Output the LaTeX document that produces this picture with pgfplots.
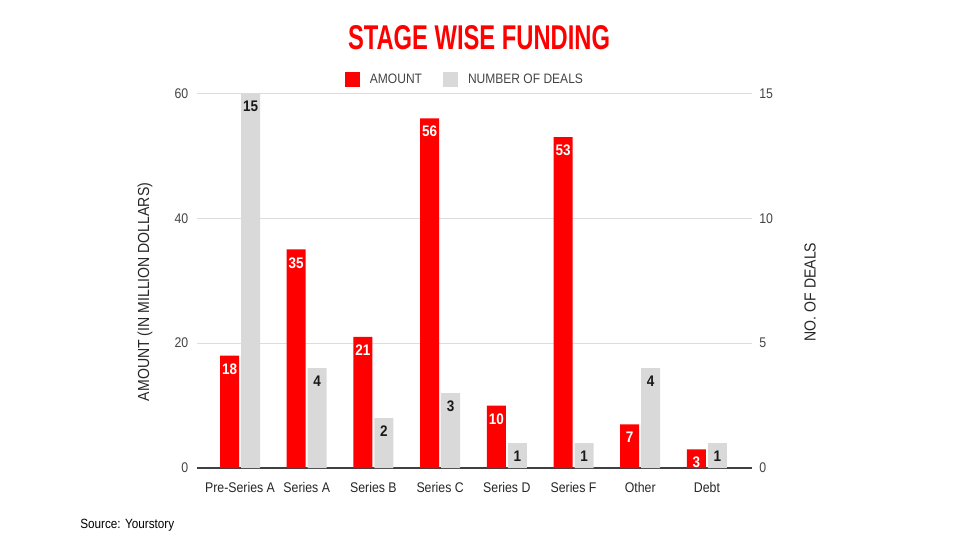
\documentclass[border=0pt]{standalone}
\usepackage{fontspec}
\setmainfont{Liberation Sans}[FakeStretch=0.88]
\usepackage{graphicx}
\usepackage{pgfplots}
\pgfplotsset{compat=1.18}

\definecolor{barred}{HTML}{FF0000}
\definecolor{bargray}{HTML}{D9D9D9}
\definecolor{txt}{HTML}{444444}
\definecolor{gridc}{HTML}{DDDDDD}

\pgfplotsset{
  common/.style={
    scale only axis, width=416.25pt, height=281pt,
    at={(147.75pt,54pt)}, anchor=south west,
    xmin=-0.645, xmax=7.676, ymin=0,
    ybar, bar width=14.25pt,
    xtick={0,...,7},
    /pgf/number format/assume math mode=true,
    tick style={draw=none},
    yticklabel style={text=txt, font=\fontsize{10.5}{12}\selectfont},
    nodes near coords,
    every node near coord/.append style={anchor=center, yshift=-10pt,
      font=\fontsize{11.5}{13}\selectfont\bfseries},
  },
  sq legend/.style={legend image code/.code={
    \fill[##1] (0pt,-5.625pt) rectangle (11.25pt,5.625pt);}},
}

\begin{document}
\begin{tikzpicture}
\useasboundingbox (0,0) rectangle (720pt,405pt);

% amount, left axis
\begin{axis}[common,
  ymax=60, ytick={0,20,40,60},
  axis lines*=left,
  axis line style={-},
  y axis line style={draw=none},
  x axis line style={draw=black!75, line width=0.8pt},
  ymajorgrids, grid style={gridc, line width=0.8pt},
  yticklabel style={xshift=-3pt},
  xticklabels={Pre-Series A, Series A, Series B, Series C, Series D, Series F, Other, Debt},
  xticklabel style={text=black!85, font=\fontsize{10.5}{12}\selectfont, yshift=-3pt},
  ylabel={AMOUNT (IN MILLION DOLLARS)},
  ylabel style={at={(axis description cs:-0.0937,0.47)}, anchor=center,
    font=\fontsize{12}{14}\selectfont, text=black!85},
  legend style={at={(axis description cs:0.481,1.037)}, anchor=center,
    draw=none, fill=none, legend columns=-1,
    font=\fontsize{10.25}{12}\selectfont, text=txt, nodes={inner sep=0pt},
    /tikz/every odd column/.append style={column sep=7.5pt},
    /tikz/every even column/.append style={column sep=15.75pt}},
]
\addplot[fill=barred, draw=none, bar shift=-7.875pt, sq legend,
  every node near coord/.append style={text=white}]
  coordinates {(0,18) (1,35) (2,21) (3,56) (4,10) (5,53) (6,7) (7,3)};
\addlegendentry{AMOUNT}
\addlegendimage{fill=bargray, draw=none, sq legend}
\addlegendentry{NUMBER OF DEALS}
\end{axis}

% number of deals, right axis
\begin{axis}[common,
  ymax=15, ytick={0,5,10,15},
  axis y line*=right, axis x line=none,
  y axis line style={draw=none},
  xtick=\empty,
  yticklabel style={xshift=2pt},
  ylabel={NO. OF DEALS},
  ylabel style={at={(axis description cs:1.1045,0.47)}, anchor=center,
    font=\fontsize{12}{14}\selectfont, text=black!85},
]
\addplot[fill=bargray, draw=none, bar shift=7.875pt,
  every node near coord/.append style={text=black!90}]
  coordinates {(0,15) (1,4) (2,2) (3,3) (4,1) (5,1) (6,4) (7,1)};
\end{axis}

\node[anchor=base, inner sep=0pt, text=barred] at (359.25pt,367.5pt)
  {\resizebox{196.5pt}{18pt}{\bfseries STAGE WISE FUNDING}};
\node[anchor=base west, inner sep=0pt, font=\fontsize{10}{12}\selectfont]
  at (60pt,9pt) {Source: Yourstory};
\end{tikzpicture}
\end{document}
